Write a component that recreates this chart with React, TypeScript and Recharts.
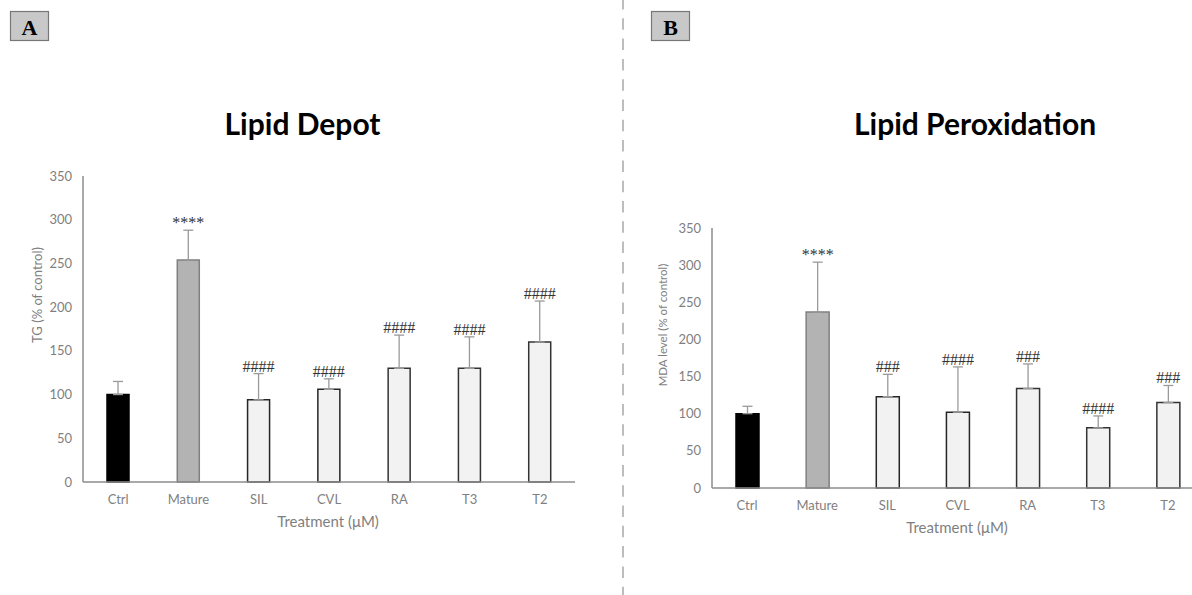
import React from 'react';
import { BarChart, Bar, XAxis, YAxis, ErrorBar, Cell, LabelList } from 'recharts';

const CATEGORIES = ['Ctrl', 'Mature', 'SIL', 'CVL', 'RA', 'T3', 'T2'];
const TG_VALUES = [100, 254, 94, 106, 130, 130, 160];
const TG_ERRORS = [15, 34, 30, 12, 38, 36, 47];
const TG_SIG = ['', '****', '####', '####', '####', '####', '####'];
const MDA_VALUES = [100, 237, 123, 102, 134, 81, 115];
const MDA_ERRORS = [10, 67, 30, 61, 33, 16, 23];
const MDA_SIG = ['', '****', '###', '####', '###', '####', '###'];
const Y_TICKS = [0, 50, 100, 150, 200, 250, 300, 350];

const BAR_FILLS = ['#000000', '#b3b3b3', '#f2f2f2', '#f2f2f2', '#f2f2f2', '#f2f2f2', '#f2f2f2'];
const BAR_STROKES = ['#000000', '#808080', '#262626', '#262626', '#333333', '#333333', '#333333'];

const build = (values: number[], errors: number[], sig: string[]) =>
  CATEGORIES.map((name, i) => ({
    name,
    value: values[i],
    err: [0, errors[i]],
    top: values[i] + errors[i],
    sig: sig[i],
  }));

const tgData = build(TG_VALUES, TG_ERRORS, TG_SIG);
const mdaData = build(MDA_VALUES, MDA_ERRORS, MDA_SIG);

const AXIS_COLOR = '#8c8c8c';
const TEXT_COLOR = '#7f7f7f';
const FONT = 'Lato, "Open Sans", sans-serif';

type PanelProps = {
  data: any[];
  left: number;
  width: number;
  margin: { top: number; right: number; bottom: number; left: number };
  barSize: number;
};

const Panel = ({ data, left, width, margin, barSize }: PanelProps) => (
  <div style={{ position: 'absolute', left, top: 0 }}>
    <BarChart width={width} height={595} data={data} margin={margin}>
      <XAxis
        dataKey="name"
        height={30}
        tickLine={false}
        tickSize={6}
        tickMargin={7}
        axisLine={{ stroke: AXIS_COLOR, strokeWidth: 1.5 }}
        tick={{ fill: TEXT_COLOR, fontSize: 13, fontFamily: FONT }}
        interval={0}
      />
      <XAxis dataKey="name" xAxisId="lab" hide />
      <YAxis
        width={40}
        domain={[0, 350]}
        ticks={Y_TICKS}
        tickLine={false}
        tickSize={6}
        tickMargin={5}
        axisLine={{ stroke: AXIS_COLOR, strokeWidth: 1.5 }}
        tick={{ fill: TEXT_COLOR, fontSize: 13, fontFamily: FONT }}
        interval={0}
      />
      <Bar dataKey="value" barSize={barSize} strokeWidth={1.5} isAnimationActive={false}>
        {data.map((_, i) => (
          <Cell key={i} fill={BAR_FILLS[i]} stroke={BAR_STROKES[i]} />
        ))}
        <ErrorBar dataKey="err" direction="y" width={5} stroke="#9a9a9a" strokeWidth={1.3} />
      </Bar>
      <Bar dataKey="top" xAxisId="lab" barSize={barSize} fill="transparent" isAnimationActive={false}>
        <LabelList
          dataKey="sig"
          position="top"
          offset={2}
          fill="#333333"
          fontSize={16}
          fontFamily='"Liberation Serif", serif'
        />
      </Bar>
    </BarChart>
  </div>
);

export default function App() {
  return (
    <div
      style={{
        position: 'absolute',
        left: 0,
        top: 0,
        width: 1192,
        height: 595,
        overflow: 'hidden',
        background: '#ffffff',
      }}
    >
      <svg width={1192} height={595} style={{ position: 'absolute', left: 0, top: 0 }}>
        <line x1={623} y1={-2} x2={623} y2={600} stroke="#bdbdbd" strokeWidth={2} strokeDasharray="11.5 8.8" />
        <rect x={10.5} y={11.5} width={38} height={29} fill="#c8c8c8" stroke="#777777" strokeWidth={1.2} />
        <text x={29.5} y={35} textAnchor="middle" fontFamily='"Liberation Serif", serif' fontWeight="bold" fontSize={22} fill="#000">A</text>
        <rect x={651.5} y={11.5} width={38} height={29} fill="#c8c8c8" stroke="#777777" strokeWidth={1.2} />
        <text x={670.5} y={35} textAnchor="middle" fontFamily='"Liberation Serif", serif' fontWeight="bold" fontSize={22} fill="#000">B</text>
        <text x={302.5} y={135} textAnchor="middle" fontFamily={FONT} fontWeight="bold" fontSize={30} fill="#000">Lipid Depot</text>
        <text x={975} y={135} textAnchor="middle" fontFamily={FONT} fontWeight="bold" fontSize={30} fill="#000">Lipid Peroxidation</text>
        <text x={328} y={527} textAnchor="middle" fontFamily={FONT} fontSize={15} fill={TEXT_COLOR}>Treatment (μM)</text>
        <text x={957} y={533} textAnchor="middle" fontFamily={FONT} fontSize={15} fill={TEXT_COLOR}>Treatment (μM)</text>
        <text x={42} y={295} textAnchor="middle" transform="rotate(-90 42 295)" fontFamily={FONT} fontSize={13} fill={TEXT_COLOR}>TG (% of control)</text>
        <text x={667} y={325} textAnchor="middle" transform="rotate(-90 667 325)" fontFamily={FONT} fontSize={11.5} fill={TEXT_COLOR}>MDA level (% of control)</text>
      </svg>
      <Panel data={tgData} left={0} width={600} margin={{ top: 176, right: 25, bottom: 83, left: 43 }} barSize={22} />
      <Panel data={mdaData} left={600} width={613} margin={{ top: 228, right: 10, bottom: 77, left: 72 }} barSize={23} />
    </div>
  );
}
